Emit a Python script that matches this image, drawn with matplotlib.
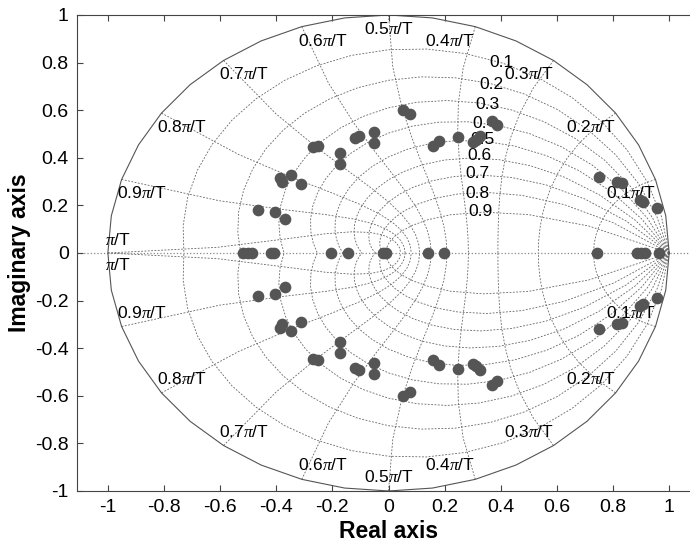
import numpy as np
import matplotlib
matplotlib.use("Agg")
import matplotlib.pyplot as plt

plt.rcParams["font.family"] = ["Liberation Sans", "DejaVu Sans"]
plt.rcParams["mathtext.fontset"] = "custom"
plt.rcParams["mathtext.it"] = "Liberation Serif:italic"
plt.rcParams["mathtext.rm"] = "Liberation Sans"

# poles in the upper half plane (the lower half is the conjugate)
pole_re = [-0.118, -0.105, -0.053, -0.053, -0.268, -0.252, -0.174, -0.174,
           -0.388, -0.380, -0.349, -0.313, -0.466, -0.406, -0.370,
           0.053, 0.075, 0.160, 0.180, 0.249, 0.300, 0.310, 0.325,
           0.370, 0.388, 0.750, 0.815, 0.833, 0.897, 0.907, 0.957]
pole_im = [0.485, 0.490, 0.508, 0.462, 0.445, 0.450, 0.420, 0.374,
           0.315, 0.300, 0.328, 0.290, 0.181, 0.172, 0.143,
           0.600, 0.583, 0.450, 0.470, 0.487, 0.465, 0.475, 0.490,
           0.553, 0.537, 0.320, 0.300, 0.294, 0.223, 0.213, 0.190]
# poles on the real axis
real_poles = [-0.520, -0.500, -0.485, -0.420, -0.408, -0.206, -0.146,
              -0.020, -0.008, 0.142, 0.196, 0.744, 0.885, 0.900, 0.915, 0.964]

# zgrid settings
zetas = [0.1, 0.2, 0.3, 0.4, 0.5, 0.6, 0.7, 0.8, 0.9]
wns = [0.1, 0.2, 0.3, 0.4, 0.5, 0.6, 0.7, 0.8, 0.9, 1.0]  # in units of pi/T
wn_labels = ["0.1$\\pi$/T", "0.2$\\pi$/T", "0.3$\\pi$/T", "0.4$\\pi$/T", "0.5$\\pi$/T",
             "0.6$\\pi$/T", "0.7$\\pi$/T", "0.8$\\pi$/T", "0.9$\\pi$/T", "$\\pi$/T"]
zeta_label_x = [0.360, 0.325, 0.310, 0.297, 0.290, 0.280, 0.275, 0.275, 0.283]
zeta_label_y = [0.800, 0.710, 0.626, 0.546, 0.475, 0.408, 0.332, 0.252, 0.176]

fig = plt.figure(figsize=(6.9, 5.45), dpi=100)
ax = fig.add_axes([0.1116, 0.0991, 0.903, 0.8734])

grid_kw = dict(color="#666666", linewidth=0.6, linestyle=(0, (2.2, 1.8)), zorder=1)

# damping ratio spirals
theta = np.arange(0, 21) * np.pi / 20
for zeta in zetas:
    m = np.tan(np.arcsin(zeta))
    zz = np.exp(theta * (-m + 1j))
    ax.plot(zz.real, zz.imag, **grid_kw)
    ax.plot(zz.real, -zz.imag, **grid_kw)

# natural frequency curves
phi = np.pi / 2 + np.arange(0, 11) * np.pi / 20
for wn in wns:
    zz = np.exp(wn * np.pi * np.exp(1j * phi))
    ax.plot(zz.real, zz.imag, **grid_kw)
    ax.plot(zz.real, -zz.imag, **grid_kw)

# unit circle
t = np.arange(0, 41) * np.pi / 20
ax.plot(np.cos(t), np.sin(t), color="#555555", linewidth=0.8, zorder=2)

# real axis line
ax.axhline(0, color="#888888", linewidth=0.9, linestyle=":", zorder=1)

# labels for natural frequency curves
lab_fs = 12.5
for wn, lab in zip(wns, wn_labels):
    a = wn * np.pi
    x, y = np.cos(a), np.sin(a)
    if wn < 0.5:
        ha, dx = "right", 0
    elif wn == 0.5:
        ha, dx = "center", 0
    else:
        ha, dx = "left", -3
    if wn == 1.0:
        ax.annotate(lab, (x, 0), xytext=(-2, 9), textcoords="offset points",
                    ha="left", va="center", fontsize=lab_fs, zorder=3)
        ax.annotate(lab, (x, 0), xytext=(-2, -9), textcoords="offset points",
                    ha="left", va="center", fontsize=lab_fs, zorder=3)
        continue
    ax.annotate(lab, (x, y), xytext=(dx, -10), textcoords="offset points",
                ha=ha, va="center", fontsize=lab_fs, zorder=3)
    ax.annotate(lab, (x, -y), xytext=(dx, 10), textcoords="offset points",
                ha=ha, va="center", fontsize=lab_fs, zorder=3)

# labels for damping ratio curves
for zeta, lx, ly in zip(zetas, zeta_label_x, zeta_label_y):
    ax.text(lx, ly, f"{zeta:g}", ha="left", va="center", fontsize=lab_fs, zorder=3)

# poles
mk = dict(marker="o", linestyle="none", markersize=7.4, color="#555555",
          markeredgecolor="#555555", zorder=4)
ax.plot(pole_re, pole_im, **mk)
ax.plot(pole_re, [-v for v in pole_im], **mk)
ax.plot(real_poles, [0] * len(real_poles), **mk)

ax.set_xlim(-1.11, 1.11)
ax.set_ylim(-1, 1)
ax.set_xticks(np.arange(-1, 1.01, 0.2))
ax.set_yticks(np.arange(-1, 1.01, 0.2))
fmt = lambda v: "0" if abs(v) < 1e-9 else f"{v:g}"
ax.set_xticklabels([fmt(v) for v in np.arange(-1, 1.01, 0.2)])
ax.set_yticklabels([fmt(v) for v in np.arange(-1, 1.01, 0.2)])
ax.tick_params(direction="in", length=4, width=0.8, color="#444444",
               top=True, right=True, labelsize=14, pad=6)
for s in ax.spines.values():
    s.set_color("#444444")
    s.set_linewidth(0.8)

ax.set_xlabel("Real axis", fontsize=16.5, fontweight="bold", labelpad=3)
ax.set_ylabel("Imaginary axis", fontsize=16.5, fontweight="bold", labelpad=3)

fig.savefig("out.png", dpi=100)
